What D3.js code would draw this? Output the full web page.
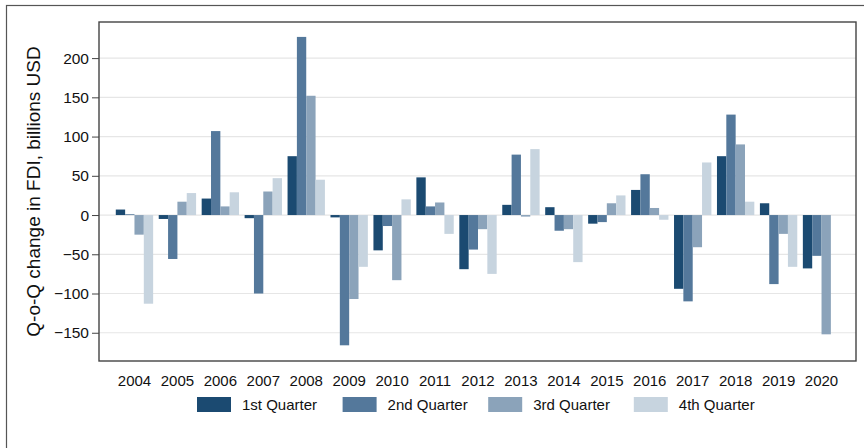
<!DOCTYPE html>
<html>
<head>
<meta charset="utf-8">
<script src="https://cdn.jsdelivr.net/npm/d3@7"></script>
<style>
  body { margin: 0; background: #fff; }
  svg { display: block; font-family: "Liberation Sans", Arial, Helvetica, sans-serif; }
</style>
</head>
<body>
<svg width="864" height="448"></svg>
<script>
// The data:
const years = ['2004', '2005', '2006', '2007', '2008', '2009', '2010', '2011', '2012',
  '2013', '2014', '2015', '2016', '2017', '2018', '2019', '2020']
const quarters = ['1st Quarter', '2nd Quarter', '3rd Quarter', '4th Quarter']
const q1 = [7, -5, 21, -4, 75, -3, -45, 48, -69, 13, 10, -11, 32, -94, 75, 15, -68]
const q2 = [1, -56, 107, -100, 227, -166, -14, 11, -44, 77, -20, -9, 52, -110, 128, -88, -52]
const q3 = [-25, 17, 11, 30, 152, -107, -83, 16, -18, -2, -18, 15, 9, -41, 90, -24, -152]
const q4 = [-113, 28, 29, 47, 45, -66, 20, -24, -75, 84, -60, 25, -6, 67, 17, -66, null]
const yTicks = [-150, -100, -50, 0, 50, 100, 150, 200]
const colors = ['#1b4a71', '#54789b', '#8ba3ba', '#c7d4df']

const series = [q1, q2, q3, q4]
const rows = []
series.forEach((s, qi) => {
  s.forEach((v, i) => {
    if (v !== null) rows.push({ year: years[i], q: quarters[qi], value: v })
  })
})

const svg = d3.select('svg')
const plotLeft = 99, plotRight = 856, plotTop = 22, plotBottom = 361

// Outer frame:
svg.append('rect')
  .attr('x', 6.5).attr('y', 5.5).attr('width', 900).attr('height', 500)
  .attr('fill', 'none').attr('stroke', '#555').attr('stroke-width', 1.2)

// Scales:
let xScale = d3.scaleBand().domain(years).range([113, 843]).paddingInner(0.13).paddingOuter(0.065)
let qScale = d3.scaleBand().domain(quarters).range([0, xScale.bandwidth()])
let yScale = d3.scaleLinear().domain([-186, 246]).range([plotBottom, plotTop])

// Grid lines:
svg.append('g').selectAll('line')
  .data(yTicks)
  .enter()
  .append('line')
  .attr('x1', plotLeft).attr('x2', plotRight)
  .attr('y1', (d) => yScale(d)).attr('y2', (d) => yScale(d))
  .attr('stroke', '#e6e6e6').attr('stroke-width', 1.2)

// Bars:
svg.append('g').selectAll('rect')
  .data(rows)
  .enter()
  .append('rect')
  .attr('x', (d) => xScale(d.year) + qScale(d.q))
  .attr('width', qScale.bandwidth())
  .attr('y', (d) => yScale(Math.max(0, d.value)))
  .attr('height', (d) => Math.abs(yScale(d.value) - yScale(0)))
  .attr('fill', (d) => colors[quarters.indexOf(d.q)])

// Plot frame:
svg.append('rect')
  .attr('x', plotLeft).attr('y', plotTop)
  .attr('width', plotRight - plotLeft).attr('height', plotBottom - plotTop)
  .attr('fill', 'none').attr('stroke', '#444').attr('stroke-width', 1.4)

// Add y-axis:
let yAxis = d3.axisLeft(yScale).tickValues(yTicks).tickSize(7).tickPadding(3)
svg.append('g').attr('id', 'yAxisG').attr('transform', `translate(${plotLeft},0)`).call(yAxis)
d3.select('#yAxisG').select('.domain').remove()
d3.select('#yAxisG').selectAll('line').attr('stroke', '#444')
d3.select('#yAxisG').selectAll('text').attr('font-size', 15.5).attr('fill', '#111')

// Add x-axis labels:
let xAxis = d3.axisBottom(xScale).tickSize(0).tickPadding(14)
svg.append('g').attr('id', 'xAxisG').attr('transform', `translate(0,${plotBottom})`).call(xAxis)
d3.select('#xAxisG').select('.domain').remove()
d3.select('#xAxisG').selectAll('text').attr('font-size', 15).attr('fill', '#111')
d3.selectAll('#yAxisG, #xAxisG').attr('font-family', null)

// Y title:
svg.append('text')
  .attr('transform', `translate(40,${(plotTop + plotBottom) / 2}) rotate(-90)`)
  .attr('text-anchor', 'middle')
  .attr('font-size', 19)
  .attr('fill', '#111')
  .text('Q-o-Q change in FDI, billions USD')

// Legend:
let legend = svg.append('g').selectAll('g')
  .data(quarters)
  .enter()
  .append('g')
  .attr('transform', (d, i) => `translate(${197 + i * 145.6},397)`)
legend.append('rect')
  .attr('width', 34).attr('height', 15)
  .attr('fill', (d, i) => colors[i])
legend.append('text')
  .attr('x', 45).attr('y', 13)
  .attr('font-size', 15).attr('fill', '#111')
  .text((d) => d)
</script>
</body>
</html>
